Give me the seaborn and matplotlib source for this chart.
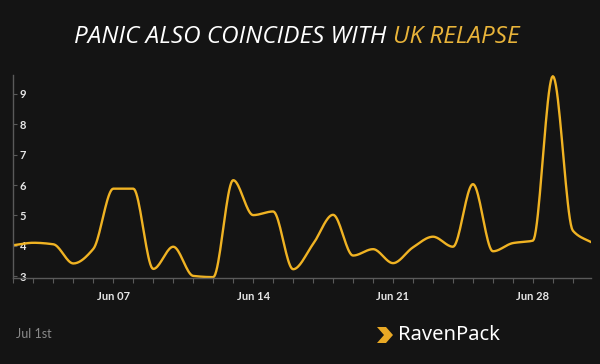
import numpy as np
import pandas as pd
import seaborn as sns
from matplotlib import pyplot as plt
import matplotlib.dates as mdates
from matplotlib.patches import Polygon

# daily values, Jun 2 .. Jul 1
dates = pd.date_range("2020-06-02", "2020-07-01", freq="D")
panic = [4.02, 4.10, 4.05, 3.42, 3.90, 5.88, 5.88, 3.24, 3.97, 3.01,
         2.97, 6.16, 5.01, 5.13, 3.23, 4.06, 5.02, 3.68, 3.89, 3.43,
         3.95, 4.30, 3.97, 6.03, 3.82, 4.09, 4.17, 9.58, 4.50, 4.09]
yticks = [3, 4, 5, 6, 7, 8, 9]
title_left = "PANIC ALSO COINCIDES WITH"
title_right = "UK RELAPSE"
footer = "Jul 1st"

BG = "#141414"
GOLD = "#f0b323"


def monotone_spline(x, y, n=20):
    # Fritsch-Carlson monotone cubic, just for the smooth look of the line
    x = np.asarray(x, float); y = np.asarray(y, float)
    h = np.diff(x); d = np.diff(y) / h
    m = np.zeros_like(y)
    m[0], m[-1] = d[0], d[-1]
    for i in range(1, len(y) - 1):
        if d[i - 1] * d[i] > 0:
            m[i] = 2 / (1 / d[i - 1] + 1 / d[i])
    xs, ys = [], []
    for i in range(len(h)):
        t = np.linspace(0, 1, n, endpoint=False)
        h00 = 2*t**3 - 3*t**2 + 1; h10 = t**3 - 2*t**2 + t
        h01 = -2*t**3 + 3*t**2; h11 = t**3 - t**2
        xs.append(x[i] + t * h[i])
        ys.append(h00*y[i] + h10*h[i]*m[i] + h01*y[i+1] + h11*h[i]*m[i+1])
    xs.append([x[-1]]); ys.append([y[-1]])
    return np.concatenate(xs), np.concatenate(ys)


sns.set_theme(style="dark")
plt.rcParams['font.family'] = ['Lato', 'DejaVu Sans']

fig = plt.figure(figsize=(6, 3.64), dpi=100, facecolor=BG)
ax = fig.add_axes([0.0217, 0.237, 0.963, 0.557])
ax.set_facecolor(BG)

xnum = mdates.date2num(dates)
sx, sy = monotone_spline(xnum, panic)
df = pd.DataFrame({"date": mdates.num2date(sx), "panic": sy})
sns.lineplot(data=df, x="date", y="panic", ax=ax, color=GOLD, linewidth=1.7)

ax.set_xlim(xnum[0] - 0.02, xnum[-1] - 0.1)
ax.set_ylim(2.95, 9.62)
ax.set_xlabel("")
ax.set_ylabel("")
ax.grid(False)

for side in ["top", "right"]:
    ax.spines[side].set_visible(False)
for side in ["left", "bottom"]:
    ax.spines[side].set_visible(True)
    ax.spines[side].set_color("#5a5a5a")
    ax.spines[side].set_linewidth(1)

ax.xaxis.set_major_locator(mdates.DayLocator(bymonthday=[7, 14, 21, 28]))
ax.xaxis.set_major_formatter(mdates.DateFormatter("%b %d"))
ax.xaxis.set_minor_locator(mdates.DayLocator())
ax.tick_params(axis="x", which="both", direction="out", length=3.5, width=0.8,
               color="#5a5a5a", pad=6, labelsize=8, labelcolor="#e6e6e6", bottom=True)
for lab in ax.get_xticklabels():
    lab.set_fontweight("bold")

ax.set_yticks(yticks)
ax.tick_params(axis="y", direction="in", length=3, width=0.8, color="#5a5a5a",
               pad=-5, labelsize=8, labelcolor="#e6e6e6", left=True)
for lab in ax.get_yticklabels():
    lab.set_horizontalalignment("left")
    lab.set_fontweight("bold")

# title in two colours
fig.text(386 / 600, 1 - 37 / 364, title_left, ha="right", va="center",
         color="white", fontsize=17.5, style="italic", family=["Open Sans", "DejaVu Sans"])
fig.text(393 / 600, 1 - 37 / 364, title_right, ha="left", va="center",
         color="#e9b43a", fontsize=17.5, style="italic", family=["Open Sans", "DejaVu Sans"])

fig.text(16 / 600, 1 - 334 / 364, footer, ha="left", va="center",
         color="#8a8a8a", fontsize=9)

# RavenPack logo
chev = [(377, 327), (386, 327), (393, 335), (386, 343), (377, 343), (384, 335)]
fig.patches.append(Polygon([(x / 600, 1 - y / 364) for x, y in chev],
                           closed=True, transform=fig.transFigure,
                           facecolor="#e9a925", edgecolor="none"))
fig.text(398 / 600, 1 - 335 / 364, "RavenPack", ha="left", va="center",
         color="white", fontsize=14.5, family=["Noto Sans", "DejaVu Sans"])

fig.savefig("out.png", dpi=100, facecolor=BG)
